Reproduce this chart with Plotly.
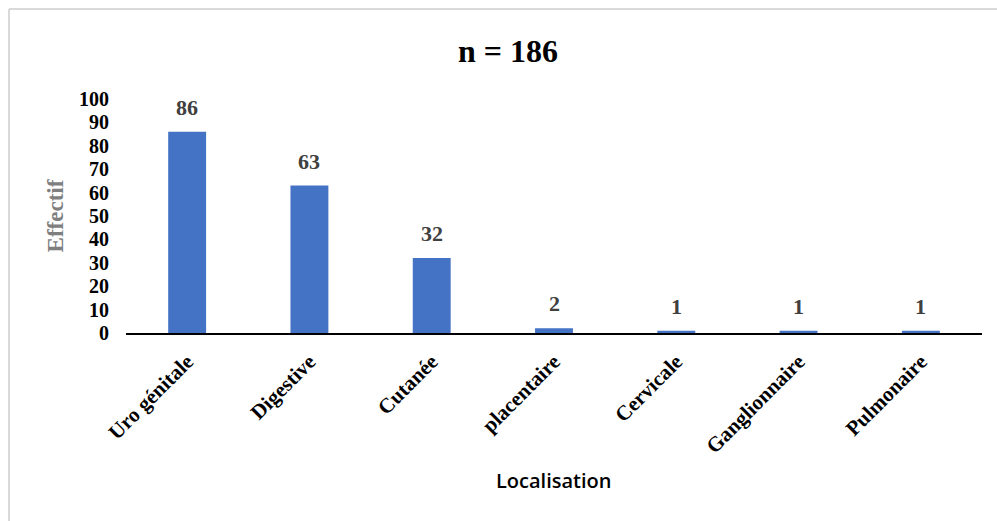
import plotly.graph_objects as go

categories = ["Uro génitale", "Digestive", "Cutanée", "placentaire", "Cervicale", "Ganglionnaire", "Pulmonaire"]
values = [86, 63, 32, 2, 1, 1, 1]
y_ticks = [0, 10, 20, 30, 40, 50, 60, 70, 80, 90, 100]

W, H = 997, 521
L, R, T, B = 126, 15, 99, 188
pw, ph = W - L - R, H - T - B

fig = go.Figure()
fig.add_trace(go.Bar(
    x=categories, y=values,
    marker=dict(color="#4472C4", line=dict(width=0)),
    width=0.31,
    hoverinfo="x+y",
))

serif = "Liberation Serif, Times New Roman, serif"

for c, v in zip(categories, values):
    fig.add_annotation(x=c, y=v, text=f"<b>{v}</b>", showarrow=False,
                       yanchor="bottom", yshift=10,
                       font=dict(family=serif, size=22, color="#404040"))

fig.add_annotation(xref="paper", yref="paper", x=0.5, y=-0.632,
                   text="Localisation", showarrow=False,
                   font=dict(family="Open Sans, Lato, sans-serif", size=20, color="#000000", weight=600),
                   xanchor="center", yanchor="middle")

# light outer frame (left and top edges visible)
fx = (9 - L) / pw
fy = 1 + (T - 9) / ph
fig.add_shape(type="line", xref="paper", yref="paper", x0=fx, x1=fx, y0=-2, y1=fy,
              line=dict(color="#d9d9d9", width=2))
fig.add_shape(type="line", xref="paper", yref="paper", x0=fx, x1=2, y0=fy, y1=fy,
              line=dict(color="#d9d9d9", width=2))

fig.update_layout(
    width=W, height=H,
    margin=dict(l=L, r=R, t=T, b=B),
    paper_bgcolor="white", plot_bgcolor="white",
    showlegend=False,
    title=dict(text="<b>n = 186</b>", x=(508) / W, xanchor="center",
               y=1 - 51 / H, yanchor="middle",
               font=dict(family=serif, size=32, color="#000000")),
    xaxis=dict(
        showline=True, linecolor="#000000", linewidth=2,
        showgrid=False, ticks="", tickangle=-45,
        tickfont=dict(family=serif, size=21, color="#000000"),
        ticklabelstandoff=6,
    ),
    yaxis=dict(
        range=[0, 100], tickvals=y_ticks, ticktext=[f"<b>{t}</b>" for t in y_ticks],
        showline=False, showgrid=False, zeroline=False, ticks="",
        tickfont=dict(family=serif, size=20, color="#000000"),
        ticklabelstandoff=16,
        title=dict(text="<b>Effectif</b>", standoff=8,
                   font=dict(family=serif, size=23, color="#7f7f7f")),
    ),
)
fig.update_xaxes(ticktext=[f"<b>{c}</b>" for c in categories], tickvals=categories)

fig.write_html("out.html")
